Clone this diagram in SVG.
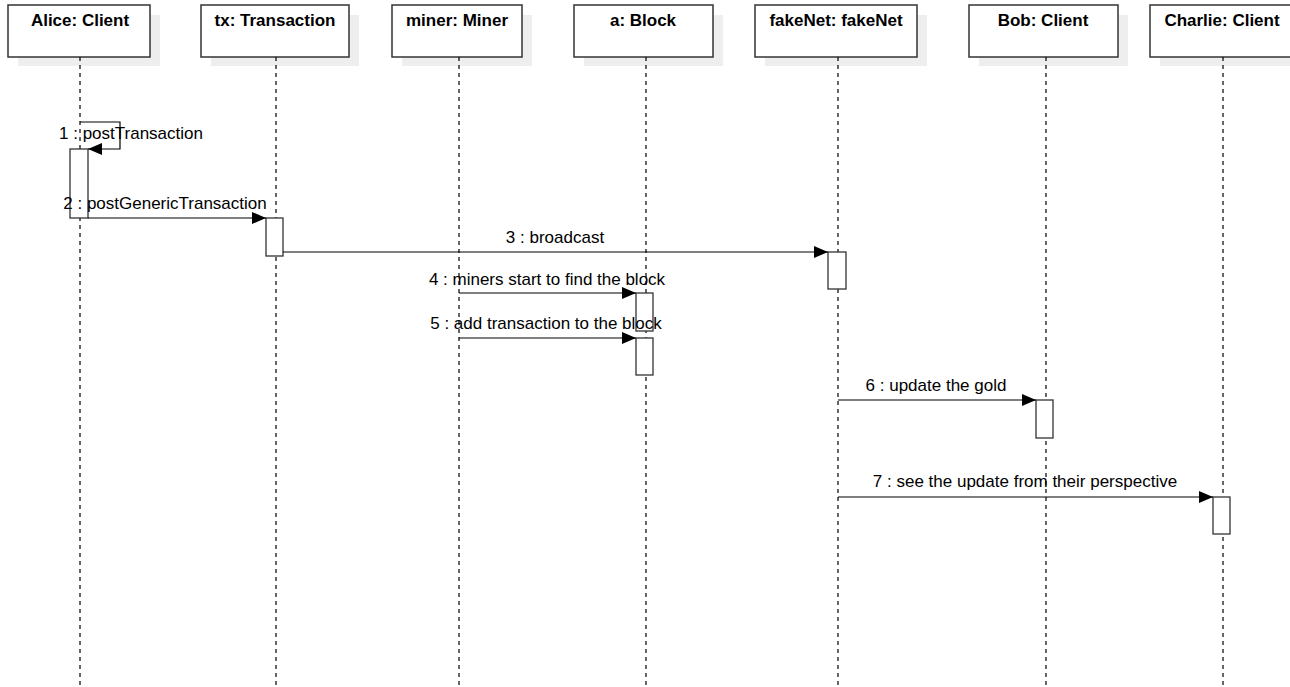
<svg xmlns="http://www.w3.org/2000/svg" width="1290" height="687" viewBox="0 0 1290 687">
<defs>
<style>
.shadow{fill:#eeeeee;stroke:none}
.box{fill:#ffffff;stroke:#333333;stroke-width:1.5}
.title{font-family:"Liberation Sans",Arial,sans-serif;font-size:17px;font-weight:bold;fill:#000;text-anchor:middle}
.life{stroke:#000;stroke-width:1.2;stroke-dasharray:4,4;fill:none}
.act{fill:#ffffff;stroke:#333333;stroke-width:1.3}
.msg{stroke:#000;stroke-width:1.2;fill:none;marker-end:url(#arr)}
.lbl{font-family:"Liberation Sans",Arial,sans-serif;font-size:17px;fill:#000;text-anchor:middle}
</style>
<marker id="arr" viewBox="0 0 14 12" refX="14" refY="6" markerWidth="14" markerHeight="12" markerUnits="userSpaceOnUse" orient="auto">
<path d="M0,0 L14,6 L0,12 Z" fill="#000"/>
</marker>
</defs>
<rect width="1290" height="687" fill="#ffffff"/>

<g id="alice">
<rect class="shadow" x="18" y="15" width="142" height="51"/>
<rect class="box" x="8" y="5" width="142" height="52"/>
<text class="title" x="80" y="26">Alice: Client</text>
<line class="life" x1="80" y1="57" x2="80" y2="687"/>
</g>
<g id="tx">
<rect class="shadow" x="211" y="15" width="148" height="51"/>
<rect class="box" x="201" y="5" width="148" height="52"/>
<text class="title" x="275" y="26">tx: Transaction</text>
<line class="life" x1="276" y1="57" x2="276" y2="687"/>
</g>
<g id="miner">
<rect class="shadow" x="402" y="15" width="130" height="51"/>
<rect class="box" x="392" y="5" width="130" height="52"/>
<text class="title" x="457" y="26">miner: Miner</text>
<line class="life" x1="459" y1="57" x2="459" y2="687"/>
</g>
<g id="block">
<rect class="shadow" x="584" y="15" width="139" height="51"/>
<rect class="box" x="574" y="5" width="139" height="52"/>
<text class="title" x="643" y="26">a: Block</text>
<line class="life" x1="646" y1="57" x2="646" y2="687"/>
</g>
<g id="fakenet">
<rect class="shadow" x="765" y="15" width="162" height="51"/>
<rect class="box" x="755" y="5" width="162" height="52"/>
<text class="title" x="836" y="26">fakeNet: fakeNet</text>
<line class="life" x1="838" y1="57" x2="838" y2="687"/>
</g>
<g id="bob">
<rect class="shadow" x="979" y="15" width="149" height="51"/>
<rect class="box" x="969" y="5" width="149" height="52"/>
<text class="title" x="1043" y="26">Bob: Client</text>
<line class="life" x1="1046" y1="57" x2="1046" y2="687"/>
</g>
<g id="charlie">
<rect class="shadow" x="1160" y="15" width="144" height="51"/>
<rect class="box" x="1150" y="5" width="144" height="52"/>
<text class="title" x="1222" y="26">Charlie: Client</text>
<line class="life" x1="1223" y1="57" x2="1223" y2="687"/>
</g>

<g id="activations">
<rect class="act" x="70" y="149" width="18" height="69"/>
<rect class="act" x="266" y="218" width="17" height="38"/>
<rect class="act" x="828" y="252" width="18" height="37"/>
<rect class="act" x="636" y="293" width="17" height="38"/>
<rect class="act" x="636" y="338" width="17" height="37"/>
<rect class="act" x="1036" y="400" width="17" height="38"/>
<rect class="act" x="1213" y="497" width="17" height="37"/>
</g>

<g id="connectors">
<path class="msg" d="M80,122 L120,122 L120,149 L88,149"/>
<line class="msg" x1="88" y1="218" x2="266" y2="218"/>
<line class="msg" x1="283" y1="252" x2="828" y2="252"/>
<line class="msg" x1="459" y1="293" x2="636" y2="293"/>
<line class="msg" x1="459" y1="338" x2="636" y2="338"/>
<line class="msg" x1="838" y1="400" x2="1036" y2="400"/>
<line class="msg" x1="838" y1="497" x2="1213" y2="497"/>
<text class="lbl" x="131" y="139">1 : postTransaction</text>
<text class="lbl" x="165" y="209">2 : postGenericTransaction</text>
<text class="lbl" x="555" y="243">3 : broadcast</text>
<text class="lbl" x="547" y="285">4 : miners start to find the block</text>
<text class="lbl" x="546" y="329">5 : add transaction to the block</text>
<text class="lbl" x="936" y="391">6 : update the gold</text>
<text class="lbl" x="1025" y="487">7 : see the update from their perspective</text>
</g>
</svg>
